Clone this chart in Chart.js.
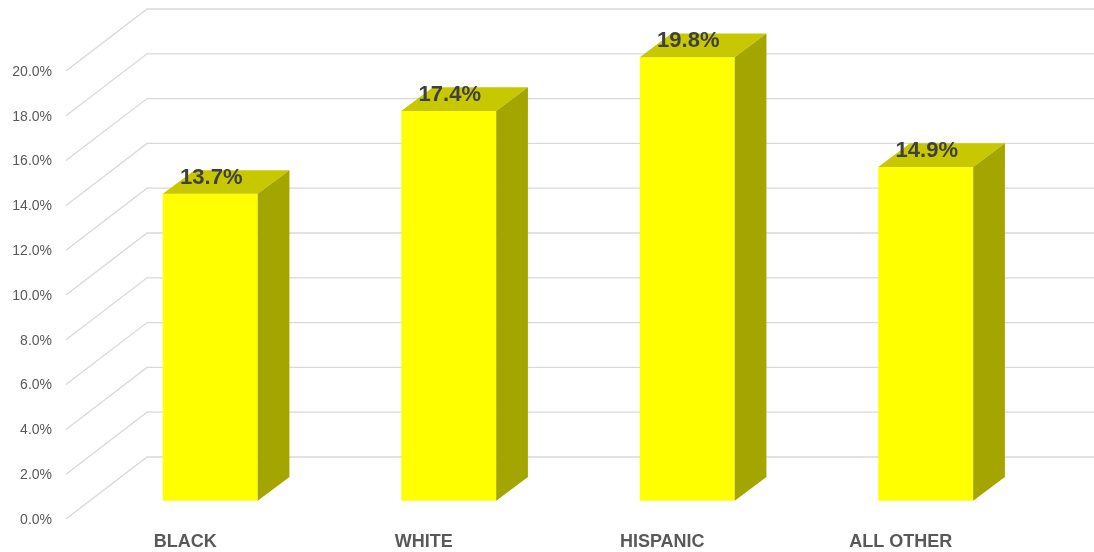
<!DOCTYPE html>
<html>
<head>
<meta charset="utf-8">
<script src="https://cdn.jsdelivr.net/npm/chart.js@4/dist/chart.umd.min.js"></script>
<style>
  html, body { margin: 0; padding: 0; background: #ffffff; }
  #wrap { width: 1094px; height: 552px; position: relative; }
</style>
</head>
<body>
<div id="wrap"><canvas id="c"></canvas></div>
<script>
// ---- data ----
const CATEGORIES = ['BLACK', 'WHITE', 'HISPANIC', 'ALL OTHER'];
const VALUES = [13.7, 17.4, 19.8, 14.9];           // percent
const TICK_VALUES = [0, 2, 4, 6, 8, 10, 12, 14, 16, 18, 20];
const TICK_LABELS = ['0.0%', '2.0%', '4.0%', '6.0%', '8.0%', '10.0%', '12.0%', '14.0%', '16.0%', '18.0%', '20.0%'];

// ---- styling / geometry (not data) ----
const FONT = "'Liberation Sans', Arial, sans-serif";
const FRONT_COLOR = '#FFFF00';
const TOP_COLOR = '#C8C800';
const SIDE_COLOR = '#A5A500';
const GRID_COLOR = '#D9D9D9';
const BAR_DX = 31.7, BAR_DY = -23.7;     // bar depth offset
const WALL_X0 = 66, WALL_DX = 81, WALL_DY = -62; // floor diagonal to back wall

const threeD = {
  id: 'threeD',
  beforeDatasetsDraw(chart) {
    const ctx = chart.ctx;
    const yl = chart.scales.yl;
    ctx.save();
    ctx.strokeStyle = GRID_COLOR;
    ctx.lineWidth = 1.3;
    TICK_VALUES.forEach(v => {
      const py = yl.getPixelForValue(v) - 1;
      ctx.beginPath();
      ctx.moveTo(WALL_X0, py);
      ctx.lineTo(WALL_X0 + WALL_DX, py + WALL_DY);
      ctx.lineTo(chart.width, py + WALL_DY);
      ctx.stroke();
    });
    ctx.restore();
  },
  afterDatasetsDraw(chart) {
    const ctx = chart.ctx;
    const meta = chart.getDatasetMeta(0);
    ctx.save();
    meta.data.forEach((bar) => {
      const p = bar.getProps(['x', 'y', 'base', 'width'], true);
      const l = p.x - p.width / 2, r = p.x + p.width / 2;
      ctx.fillStyle = TOP_COLOR;
      ctx.beginPath();
      ctx.moveTo(l, p.y);
      ctx.lineTo(r, p.y);
      ctx.lineTo(r + BAR_DX, p.y + BAR_DY);
      ctx.lineTo(l + BAR_DX, p.y + BAR_DY);
      ctx.closePath();
      ctx.fill();
      ctx.fillStyle = SIDE_COLOR;
      ctx.beginPath();
      ctx.moveTo(r, p.y);
      ctx.lineTo(r + BAR_DX, p.y + BAR_DY);
      ctx.lineTo(r + BAR_DX, p.base + BAR_DY);
      ctx.lineTo(r, p.base);
      ctx.closePath();
      ctx.fill();
    });
    ctx.fillStyle = '#404040';
    ctx.font = 'bold 22px ' + FONT;
    ctx.textAlign = 'center';
    ctx.textBaseline = 'alphabetic';
    meta.data.forEach((bar, i) => {
      const p = bar.getProps(['x', 'y'], true);
      ctx.fillText(VALUES[i].toFixed(1) + '%', p.x + 1, p.y - 10);
    });
    ctx.restore();
  }
};

new Chart(document.getElementById('c'), {
  type: 'bar',
  data: {
    labels: CATEGORIES,
    datasets: [{
      data: VALUES,
      backgroundColor: FRONT_COLOR,
      borderWidth: 0,
      categoryPercentage: 1,
      barPercentage: 0.398,
      yAxisID: 'y'
    }]
  },
  options: {
    responsive: true,
    maintainAspectRatio: false,
    animation: false,
    events: [],
    layout: { padding: { top: 53, right: 49, left: 0, bottom: 0 } },
    plugins: { legend: { display: false }, tooltip: { enabled: false } },
    scales: {
      x: {
        grid: { display: false, drawTicks: false },
        border: { display: false },
        ticks: {
          font: { family: FONT, size: 18, weight: 'bold' },
          color: '#595959',
          labelOffset: -25,
          padding: 11,
          maxRotation: 0,
          autoSkip: false
        },
        afterFit(s) { s.height = 32; s.paddingLeft = 0; s.paddingRight = 0; }
      },
      y: {
        display: false,
        min: -0.8616,
        max: 19.987,
        afterFit(s) { s.paddingTop = 0; s.paddingBottom = 0; }
      },
      yl: {
        position: 'left',
        min: 0,
        max: 20.848,
        grid: { display: false, drawTicks: false },
        border: { display: false },
        afterBuildTicks(s) { s.ticks = TICK_VALUES.map(v => ({ value: v })); },
        ticks: {
          font: { family: FONT, size: 14 },
          color: '#595959',
          padding: 39,
          callback(value) {
            const i = TICK_VALUES.indexOf(value);
            return i >= 0 ? TICK_LABELS[i] : '';
          }
        },
        afterFit(s) { s.width = 91; s.paddingTop = 0; s.paddingBottom = 0; }
      }
    }
  },
  plugins: [threeD]
});
</script>
</body>
</html>
